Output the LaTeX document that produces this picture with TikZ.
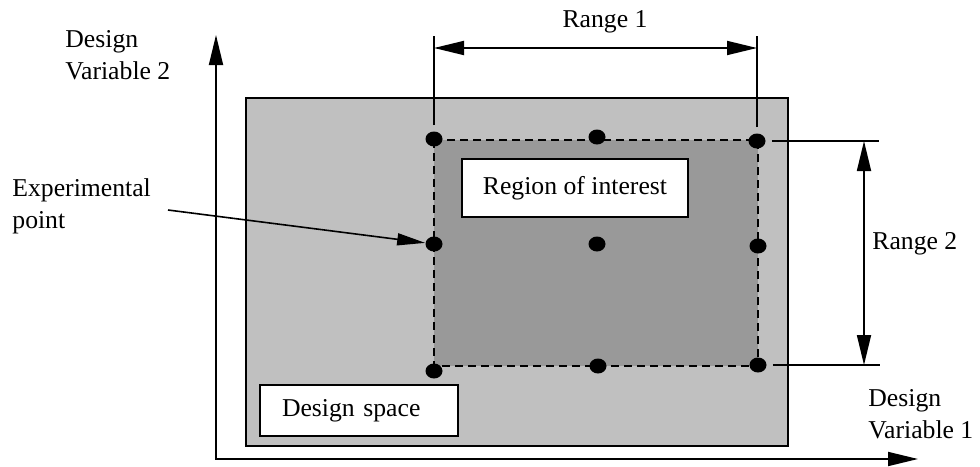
\documentclass[tikz,border=0pt]{standalone}
\usepackage{fontspec}
\setmainfont{Liberation Serif}
\usetikzlibrary{arrows.meta,shapes.geometric}
\begin{document}
\begin{tikzpicture}[x=0.5pt,y=-0.5pt,
  lbl/.style={font=\fontsize{12.85}{16}\selectfont, inner sep=0pt, align=left},
  ptdot/.style={ellipse, fill=black, inner sep=0pt, minimum width=8.5pt, minimum height=7.5pt},
  whitebox/.style={rectangle, draw=black, line width=0.8pt, fill=white, font=\fontsize{12.85}{16}\selectfont, inner ysep=0pt},
  tips/.style={{Triangle[length=15pt,width=7pt]}-{Triangle[length=15pt,width=7pt]}},
  axis line/.style={line width=0.9pt}]

% canvas
\path[fill=white] (0,0) rectangle (980,463);

% design space
\draw[line width=0.9pt, fill={rgb,255:red,192;green,192;blue,192}] (246,98) rectangle (788,446);

% region of interest (dashed)
\draw[line width=0.75pt, dash pattern=on 4pt off 2.5pt, fill={rgb,255:red,153;green,153;blue,153}] (434,140) rectangle (758,366);

% text boxes
\node[whitebox, minimum width=113pt, minimum height=29pt] (roi) at (575,188) {Region of interest};
\node[whitebox, minimum width=99pt, minimum height=25.5pt, text width=77pt, inner xsep=11pt, align=left] (dspace) at (359,410.5) {Design space};

% experimental points
\node[ptdot] (TL) at (434,139) {};
\node[ptdot] (TM) at (597,137) {};
\node[ptdot] (TR) at (757,141) {};
\node[ptdot] (ML) at (434,244) {};
\node[ptdot] (C)  at (597,244) {};
\node[ptdot] (MR) at (758,246) {};
\node[ptdot] (BL) at (434,371) {};
\node[ptdot] (BM) at (598,366) {};
\node[ptdot] (BR) at (758,365) {};

% axes
\coordinate (O) at (216,459);
\coordinate (ytip) at (216,35);
\coordinate (xtip) at (918,459);
\draw[axis line, tips, line join=miter] (ytip) -- (O) -- (xtip);

% range 1 dimension
\coordinate (e1a) at (434,36);
\coordinate (e1b) at (757,36);
\coordinate (r1l) at (434,48);
\coordinate (r1r) at (757,48);
\draw[axis line, shorten <=3pt] (TL.north) -- (e1a);
\draw[axis line, shorten <=3pt] (TR.north) -- (e1b);
\draw[axis line, tips] (r1l) -- (r1r);

% range 2 dimension
\coordinate (e2a) at (879,141);
\coordinate (e2b) at (880,365);
\coordinate (r2t) at (864,141);
\coordinate (r2b) at (864,365);
\draw[axis line, shorten <=3pt] (TR.east) -- (e2a);
\draw[axis line, shorten <=3pt] (BR.east) -- (e2b);
\draw[axis line, tips] (r2t) -- (r2b);

% labels
\node[lbl] (range1) at (605,22) {Range 1};
\node[lbl, anchor=west] (range2) at (872,244) {Range 2};
\node[lbl, anchor=west] (dv2) at (65,55) {Design\\Variable 2};
\node[lbl, anchor=west] (dv1) at (868,414) {Design\\Variable 1};
\node[lbl, anchor=west] (exp) at (12,206) {Experimental\\point};

% pointer to an experimental point
\coordinate (ptail) at (168,210);
\draw[line width=0.8pt, -{Triangle[length=14pt,width=6pt]}] (ptail) -- (ML);
\end{tikzpicture}
\end{document}
